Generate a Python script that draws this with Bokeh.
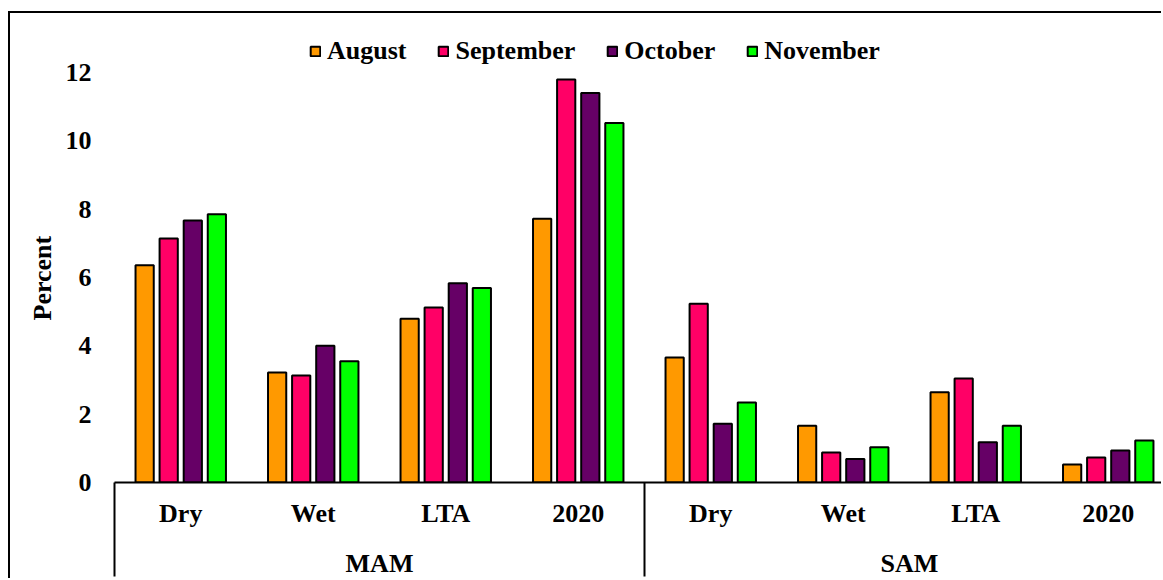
from bokeh.plotting import figure
from bokeh.models import (Range1d, LinearAxis, FixedTicker, Legend, LegendItem,
                          ColumnDataSource, Title)
from bokeh.embed import file_html
from bokeh.resources import INLINE

# ---- data -------------------------------------------------------------
seasons = ["MAM", "SAM"]
conditions = ["Dry", "Wet", "LTA", "2020"]
months = ["August", "September", "October", "November"]
colors = ["#FF9900", "#FF0066", "#660066", "#00FF00"]

# values per (season, condition), in the order MAM Dry..2020, SAM Dry..2020
august = [6.36, 3.22, 4.79, 7.72, 3.66, 1.66, 2.64, 0.53]
september = [7.14, 3.13, 5.12, 11.79, 5.23, 0.88, 3.04, 0.73]
october = [7.67, 4.00, 5.83, 11.40, 1.72, 0.69, 1.18, 0.94]
november = [7.85, 3.55, 5.69, 10.52, 2.34, 1.03, 1.66, 1.23]

y_ticks = [0, 2, 4, 6, 8, 10, 12]

series = [august, september, october, november]

# ---- layout helpers ---------------------------------------------------
# one category spans 2 x-units, so category centres and season
# boundaries land on whole numbers
n_cat = len(seasons) * len(conditions)
centers = [2 * i + 1 for i in range(n_cat)]
cat_labels = {c: conditions[i % len(conditions)] for i, c in enumerate(centers)}
season_edges = [2 * len(conditions) * k for k in range(len(seasons) + 1)]
season_centers = [2 * len(conditions) * k + len(conditions) for k in range(len(seasons))]
season_labels = {c: s for c, s in zip(season_centers, seasons)}
offsets = [-0.545, -0.182, 0.182, 0.545]
bar_w = 0.275

FONT = "Liberation Serif"

p = figure(width=1153, height=567, output_backend="svg", toolbar_location=None,
           x_range=Range1d(0, 15.834), y_range=Range1d(0, 13.46),
           x_axis_type=None, y_axis_type=None,
           min_border_left=104, min_border_right=0,
           min_border_top=9, min_border_bottom=98)
p.outline_line_color = None
p.background_fill_color = "white"
p.border_fill_color = "white"
p.margin = (11, 0, 0, 8)
p.styles = {"border-top": "2px solid black", "border-left": "2px solid black"}

# ---- bars -------------------------------------------------------------
renderers = []
for vals, off, col in zip(series, offsets, colors):
    src = ColumnDataSource(dict(x=[c + off for c in centers], top=vals))
    r = p.vbar(x="x", top="top", bottom=0, width=bar_w, source=src,
               fill_color=col, line_color="black", line_width=2)
    renderers.append(r)

# ---- axes -------------------------------------------------------------
yax = LinearAxis(ticker=FixedTicker(ticks=y_ticks))
yax.axis_line_color = None
yax.major_tick_line_color = None
yax.minor_tick_line_color = None
yax.major_tick_out = 0
yax.major_tick_in = 0
yax.minor_tick_out = 0
yax.minor_tick_in = 0
yax.major_label_standoff = 23
yax.major_label_text_font = FONT
yax.major_label_text_font_style = "bold"
yax.major_label_text_font_size = "26px"
yax.major_label_text_color = "black"
p.add_layout(yax, "left")

# vertical axis title, anchored from the bottom of the frame
ytitle = Title(text="Percent", align="left", offset=162, standoff=12,
               text_font=FONT, text_font_style="bold", text_font_size="26px",
               text_color="black")
p.add_layout(ytitle, "left")

# category row: its minor ticks are the long season separators, so the
# label standoff is pulled back by the separator length
sep_len = 94
xax = LinearAxis(ticker=FixedTicker(ticks=centers, minor_ticks=season_edges),
                 major_label_overrides=cat_labels)
xax.axis_line_color = "black"
xax.axis_line_width = 2
xax.major_tick_line_color = None
xax.major_tick_out = 0
xax.major_tick_in = 0
xax.minor_tick_line_color = "black"
xax.minor_tick_line_width = 2
xax.minor_tick_in = 0
xax.minor_tick_out = sep_len
xax.major_label_standoff = 16 - sep_len
xax.major_label_text_font = FONT
xax.major_label_text_font_style = "bold"
xax.major_label_text_font_size = "26px"
xax.major_label_text_color = "black"
p.add_layout(xax, "below")

gax = LinearAxis(ticker=FixedTicker(ticks=season_centers, minor_ticks=[]),
                 major_label_overrides=season_labels)
gax.axis_line_color = None
gax.major_tick_line_color = None
gax.minor_tick_line_color = None
gax.major_tick_out = 0
gax.major_tick_in = 0
gax.minor_tick_out = 0
gax.minor_tick_in = 0
gax.major_label_standoff = 18
gax.major_label_text_font = FONT
gax.major_label_text_font_style = "bold"
gax.major_label_text_font_size = "26px"
gax.major_label_text_color = "black"
p.add_layout(gax, "below")

# ---- legend -----------------------------------------------------------
legend = Legend(items=[LegendItem(label=m, renderers=[r]) for m, r in zip(months, renderers)],
                orientation="horizontal", location=(195, 416))
legend.glyph_width = 12
legend.glyph_height = 12
legend.label_standoff = 6
legend.spacing = 31
legend.padding = 0
legend.margin = 0
legend.border_line_color = None
legend.background_fill_alpha = 0
legend.label_text_font = FONT
legend.label_text_font_style = "bold"
legend.label_text_font_size = "26px"
legend.label_text_color = "black"
p.add_layout(legend)

open("out.html", "w").write(file_html(p, INLINE))
